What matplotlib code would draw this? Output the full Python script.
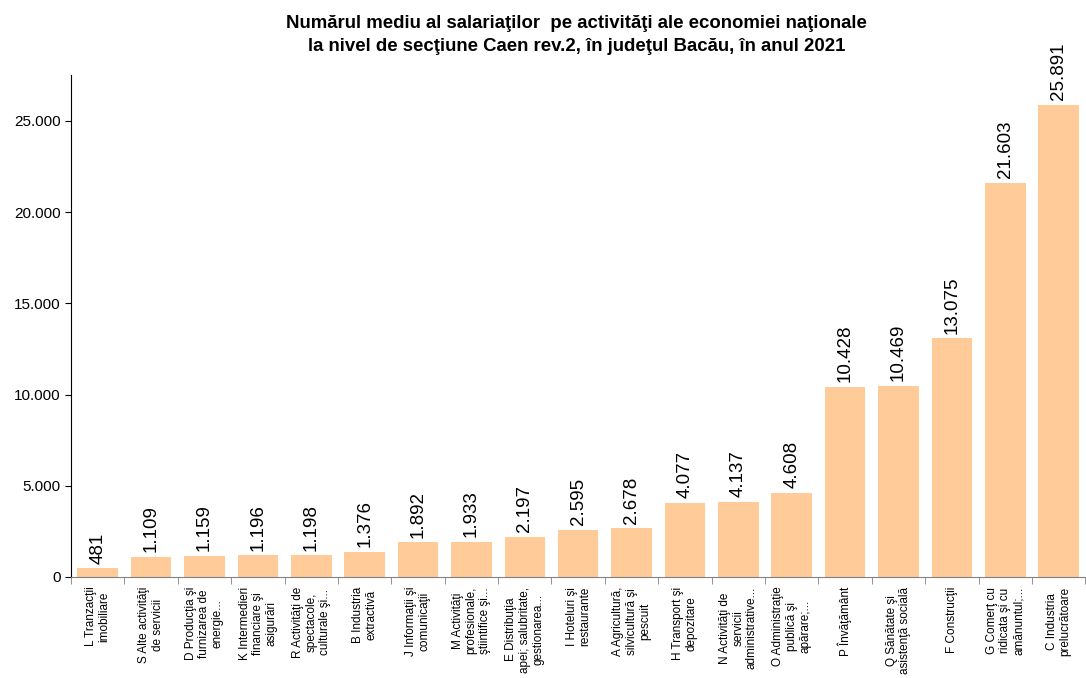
import matplotlib.pyplot as plt
import numpy as np

plt.rcParams['font.family'] = ['Liberation Sans', 'DejaVu Sans']

# Data
categories = [
    'L Tranzacţii\nimobiliare',
    'S Alte activităţi\nde servicii',
    'D Producţia şi\nfurnizarea de\nenergie...',
    'K Intermedieri\nfinanciare şi\nasigurări',
    'R Activităţi de\nspectacole,\nculturale şi...',
    'B Industria\nextractivă',
    'J Informaţii şi\ncomunicaţii',
    'M Activităţi\nprofesionale,\nştiintifice şi...',
    'E Distribuţia\napei; salubritate,\ngestionarea...',
    'I Hoteluri şi\nrestaurante',
    'A Agricultură,\nsilvicultură şi\npescuit',
    'H Transport şi\ndepozitare',
    'N Activităţi de\nservicii\nadministrative...',
    'O Administraţie\npublică şi\napărare;...',
    'P Învăţământ',
    'Q Sănătate şi\nasistenţă socială',
    'F Construcţii',
    'G Comerţ cu\nridicata şi cu\namănuntul;...',
    'C Industria\nprelucrătoare',
]
values = [481, 1109, 1159, 1196, 1198, 1376, 1892, 1933, 2197, 2595,
          2678, 4077, 4137, 4608, 10428, 10469, 13075, 21603, 25891]
yticks = [0, 5000, 10000, 15000, 20000, 25000]
ytick_labels = ['0', '5.000', '10.000', '15.000', '20.000', '25.000']

title = ('Numărul mediu al salariaţilor  pe activităţi ale economiei naţionale\n'
         'la nivel de secţiune Caen rev.2, în judeţul Bacău, în anul 2021')

fig = plt.figure(figsize=(10.86, 6.78), dpi=100)
ax = fig.add_axes([0.0654, 0.149, 0.934, 0.740])

x = np.arange(len(values))
ax.bar(x, values, width=0.76, color='#FFCC99', zorder=2)

# value labels
for xi, v in zip(x, values):
    ax.text(xi, v + 250, f'{v:,}'.replace(',', '.'), rotation=90,
            ha='center', va='bottom', fontsize=13.5, color='black')

ax.set_xlim(-0.5, len(values) - 0.5)
ax.set_ylim(0, 27500)
ax.set_yticks(yticks)
ax.set_yticklabels(ytick_labels, fontsize=11)

ax.set_xticks(x)
ax.set_xticklabels(categories, rotation=90, fontsize=8.5, ha='center',
                   va='top', multialignment='center', linespacing=1.15)
ax.tick_params(axis='x', which='major', length=0, pad=7)
ax.set_xticks(np.arange(-0.5, len(values), 1.0), minor=True)
ax.tick_params(axis='x', which='minor', length=5, color='#808080')
ax.tick_params(axis='y', length=4, color='black')

for s in ['top', 'right']:
    ax.spines[s].set_visible(False)
ax.spines['bottom'].set_color('#808080')
ax.spines['left'].set_color('black')

fig.text(0.531, 0.978, title, ha='center', va='top', fontsize=13.4,
         fontweight='bold', linespacing=1.45)

fig.savefig('out.png', dpi=100)
